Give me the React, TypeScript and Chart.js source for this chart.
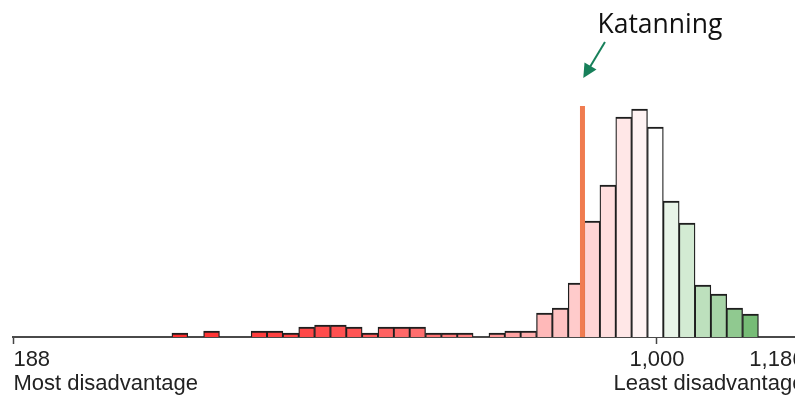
import React, { useEffect, useRef } from 'react';
import { Chart, registerables } from 'chart.js';

Chart.register(...registerables);

// Lower bound of each 20-point score bin
const binStarts = [
  388, 408, 428, 448, 468, 488, 508, 528, 548, 568, 588, 608, 628, 648, 668, 688, 708, 728, 748,
  768, 788, 808, 828, 848, 868, 888, 908, 928, 948, 968, 988, 1008, 1028, 1048, 1068, 1088, 1108,
];
const binWidth = 20;
// Relative number of areas in each bin
const areaCounts = [
  4, 0, 6, 0, 0, 6, 6, 4, 10, 12, 12, 10, 4, 10, 10, 10, 4, 4, 4,
  0, 4, 6, 6, 24, 29, 54, 116, 152, 220, 228, 210, 136, 114, 52, 43, 29, 23,
];
const binColors = [
  '#ff2e2e', '#ff3131', '#ff3434', '#ff3838', '#ff3b3b', '#ff3e3e', '#ff4141', '#ff4444', '#ff4848', '#ff4c4c',
  '#ff5050', '#ff5555', '#ff5a5a', '#ff6262', '#ff6868', '#ff6e6e', '#ff7474', '#ff7a7a', '#ff8080', '#ff8888',
  '#ff9696', '#ffa2a2', '#ffadad', '#ffb9b9', '#ffc2c2', '#ffcbcb', '#ffd5d5', '#ffdede', '#ffe7e7', '#fff3f3',
  '#ffffff', '#e8f4e8', '#d3ebd3', '#bde0bd', '#a7d4a7', '#90c990', '#76bc76',
];

const axisMin = 188;
const axisMax = 1186;
const tickValues = [188, 1000, 1186];
const tickLabels = ['188', '1,000', '1,186'];
const tickCaptions = ['Most disadvantage', '', 'Least disadvantage'];

const markerName = 'Katanning';
const markerScore = 906;
const markerHeight = 231;
const yMax = 240;

const markerPlugin = {
  id: 'katanningMarker',
  afterDatasetsDraw(chart: any) {
    const { ctx, scales } = chart;
    const x = scales.x;
    const y = scales.y;
    const px = x.getPixelForValue(markerScore);
    const top = y.getPixelForValue(markerHeight);
    const bottom = y.getPixelForValue(0);
    ctx.save();
    ctx.strokeStyle = '#f07c50';
    ctx.lineWidth = 5;
    ctx.beginPath();
    ctx.moveTo(px, top);
    ctx.lineTo(px, bottom);
    ctx.stroke();

    // arrow
    const tipX = px + 0.8;
    const tipY = top - 28;
    const sx = px + 22.5;
    const sy = top - 64;
    const dx = tipX - sx;
    const dy = tipY - sy;
    const len = Math.hypot(dx, dy);
    const ux = dx / len;
    const uy = dy / len;
    const headLen = 14;
    const half = 7;
    const bx = tipX - ux * headLen;
    const by = tipY - uy * headLen;
    ctx.strokeStyle = '#17805a';
    ctx.fillStyle = '#17805a';
    ctx.lineWidth = 2;
    ctx.beginPath();
    ctx.moveTo(sx, sy);
    ctx.lineTo(bx + ux * 2, by + uy * 2);
    ctx.stroke();
    ctx.beginPath();
    ctx.moveTo(tipX, tipY);
    ctx.lineTo(bx - uy * half, by + ux * half);
    ctx.lineTo(bx + uy * half, by - ux * half);
    ctx.closePath();
    ctx.fill();

    ctx.fillStyle = '#111111';
    ctx.font = '26.5px "Open Sans", "Noto Sans", sans-serif';
    ctx.textBaseline = 'alphabetic';
    ctx.textAlign = 'left';
    ctx.fillText(markerName, px + 15, top - 73);
    ctx.restore();
  },
};

export default function App() {
  const canvasRef = useRef<HTMLCanvasElement | null>(null);

  useEffect(() => {
    if (!canvasRef.current) return;
    const chart = new Chart(canvasRef.current, {
      type: 'bar',
      data: {
        datasets: [
          {
            data: binStarts.map((s, i) => ({ x: s + binWidth / 2, y: areaCounts[i] || null })) as any,
            backgroundColor: binColors,
            borderColor: '#1e1e1e',
            borderWidth: { top: 2, left: 1.3, right: 1.3, bottom: 0 } as any,
            barPercentage: 1,
            categoryPercentage: 1,
          },
        ],
      },
      options: {
        animation: false,
        responsive: false,
        layout: { padding: { left: 13.4, right: 5.6, top: 97, bottom: 0 } },
        plugins: { legend: { display: false }, tooltip: { enabled: false } },
        scales: {
          x: {
            type: 'linear',
            min: axisMin,
            max: axisMax,
            offset: false,
            afterBuildTicks: (scale: any) => {
              scale.ticks = tickValues.map((v) => ({ value: v }));
            },
            afterFit: (scale: any) => {
              scale.height = 60;
            },
            grid: {
              offset: false,
              drawOnChartArea: false,
              drawTicks: true,
              tickLength: 7,
              tickColor: '#444444',
              tickWidth: 1.5,
            },
            border: { display: true, color: '#4a4a4a', width: 2 },
            ticks: {
              align: 'inner',
              padding: 4,
              autoSkip: false,
              maxRotation: 0,
              color: '#222222',
              font: { family: '"Liberation Sans", Arial, sans-serif', size: 22, lineHeight: 1.1 },
              callback: (_v: any, i: number) =>
                tickCaptions[i] ? [tickLabels[i], tickCaptions[i]] : tickLabels[i],
            },
          },
          y: { display: false, min: 0, max: yMax },
        },
      },
      plugins: [markerPlugin],
    } as any);
    return () => chart.destroy();
  }, []);

  return (
    <div style={{ position: 'fixed', left: 0, top: 0, width: 795, height: 397, overflow: 'hidden', background: '#fff' }}>
      <canvas ref={canvasRef} width={810} height={397} style={{ width: 810, height: 397, display: 'block' }} />
    </div>
  );
}
